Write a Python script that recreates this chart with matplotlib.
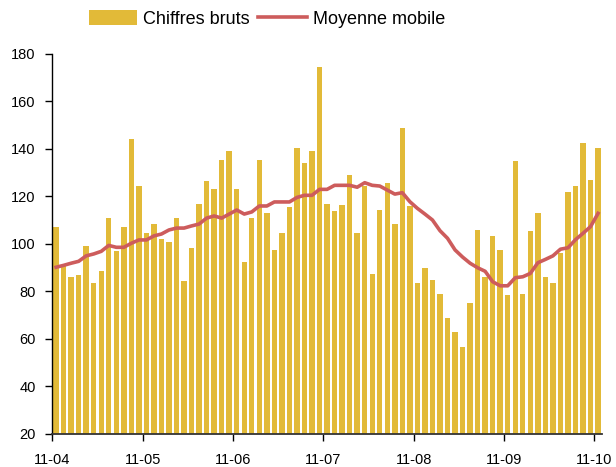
import numpy as np
import pandas as pd
import matplotlib
matplotlib.use('Agg')
import matplotlib.pyplot as plt

plt.rcParams['font.family'] = ['Liberation Sans', 'DejaVu Sans']

# Monthly data, Nov 2004 -> Nov 2010
months = pd.date_range('2004-11-01', periods=73, freq='MS')
raw = [107, 91, 86, 87, 99, 83.5, 88.5, 111, 97, 107, 144, 124.5,
       104.5, 108.5, 102, 101, 111, 84.5, 98.5, 117, 126.5, 123, 135.5, 139,
       123, 92.5, 111, 135.5, 113, 97.5, 104.5, 115.5, 140.5, 134, 139, 174.5,
       117, 114, 116.5, 129, 104.5, 124.5, 87.5, 114.5, 125.5, 108.5, 149, 116,
       83.5, 90, 85, 79, 69, 63, 56.5, 75, 106, 86, 103.5, 97.5, 78.5, 135,
       79, 105.5, 113, 86, 83.5, 96, 122, 124.5, 142.5, 127, 140.5]
moving_avg = [90.2, 91.0, 91.9, 92.7, 95.0, 95.8, 96.9, 99.4, 98.6, 98.6, 100.3, 101.7,
              101.7, 103.4, 104.2, 105.9, 106.7, 106.7, 107.6, 108.4, 110.9, 111.8, 110.9, 112.6,
              114.3, 112.6, 113.5, 116.0, 116.0, 117.7, 117.7, 117.7, 119.6, 120.5, 120.5, 123.0,
              123.0, 124.7, 124.7, 124.7, 123.9, 125.8, 124.7, 124.4, 122.7, 121.0, 121.6, 117.8,
              115.0, 112.6, 110.1, 105.6, 102.4, 97.5, 94.5, 91.9, 90.0, 88.5, 84.1, 82.4,
              82.4, 85.8, 86.2, 87.6, 92.1, 93.5, 95.0, 97.8, 98.4, 101.8, 104.5, 107.3, 112.9]
tick_labels = ['11-04', '11-05', '11-06', '11-07', '11-08', '11-09', '11-10']

x = np.arange(len(months))

fig = plt.figure(figsize=(6.16, 4.67), dpi=100)
ax = fig.add_axes([0.0849, 0.0707, 0.8921, 0.8137])

bars = ax.bar(x, raw, width=0.72, color='#E2BA38', label='Chiffres bruts', zorder=2)
line, = ax.plot(x, moving_avg, color='#CD5C5C', lw=2.6, label='Moyenne mobile', zorder=3)

ax.set_xlim(-0.5, len(x) - 0.5)
ax.set_ylim(20, 180)
ax.set_yticks(np.arange(20, 181, 20))
ax.set_xticks(np.arange(-0.5, len(x), 12))
ax.set_xticklabels(tick_labels)

for s in ['top', 'right']:
    ax.spines[s].set_visible(False)
ax.spines['left'].set_linewidth(1.0)
ax.spines['bottom'].set_linewidth(1.3)
ax.spines['bottom'].set_color('#333333')

ax.tick_params(axis='y', direction='out', length=5, width=1, pad=7, labelsize=10.5)
ax.tick_params(axis='x', direction='out', length=5, width=1, pad=9, labelsize=10.5)

fig.legend([bars, line], ['Chiffres bruts', 'Moyenne mobile'],
           loc='center', bbox_to_anchor=(0.433, 0.959), ncol=2, frameon=False,
           fontsize=13, handlelength=2.7, handletextpad=0.3, columnspacing=0.5,
           handleheight=0.9)

fig.savefig('out.png', dpi=100)
